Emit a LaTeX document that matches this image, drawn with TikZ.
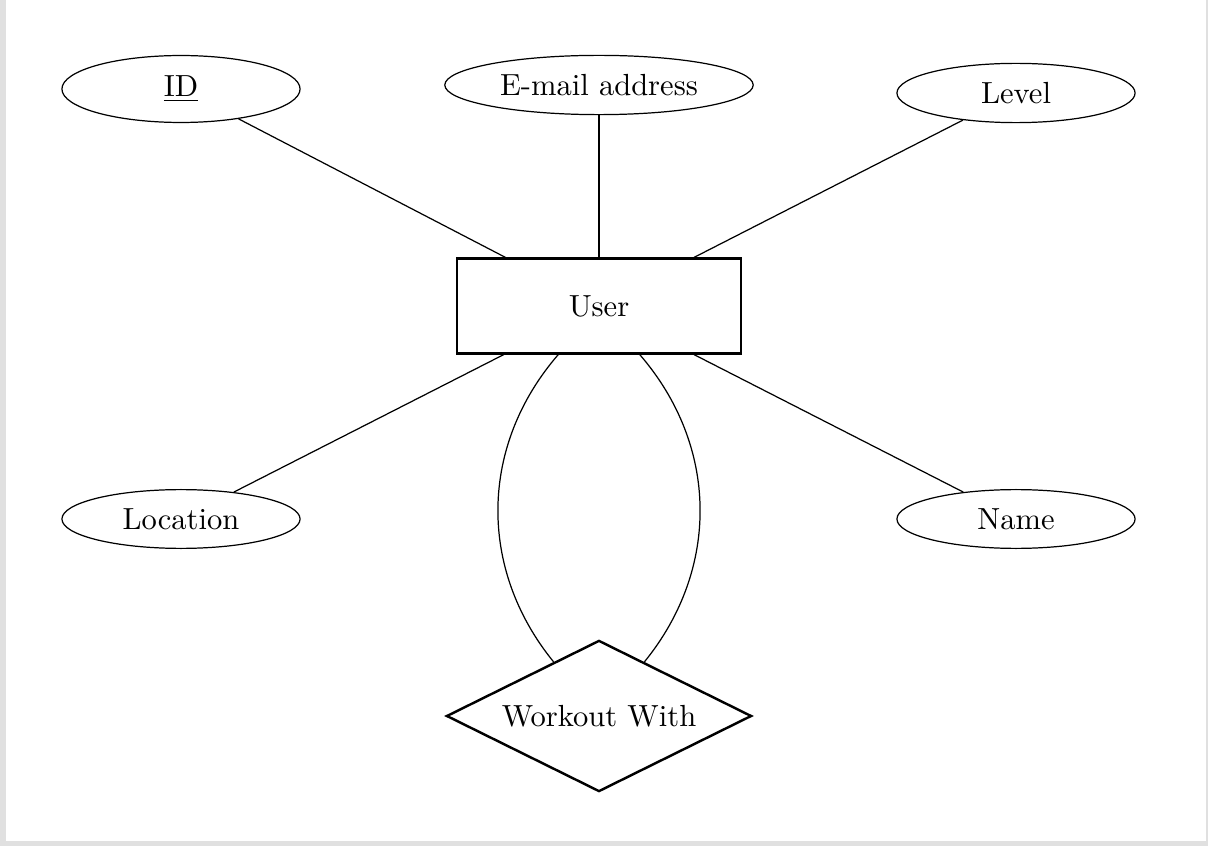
\documentclass[tikz,border=0pt]{standalone}
\usepackage{amsmath}
\usepackage{tikz}
\usetikzlibrary{positioning}
\usetikzlibrary{shapes}

\begin{document}
\begin{tikzpicture}[x=0.0115cm, y=-0.0115cm]
	\useasboundingbox (0,0) rectangle (1208,846);
	\fill[black!12] (0,0) rectangle (1208,846);
	\fill[white] (6,0) rectangle (1206,841);

	\node[ellipse, draw, minimum width=2.74cm] (id) at (181,89) {\underline{ID}};
	\node[ellipse, draw, minimum width=2.74cm] (email) at (599,85) {E-mail address};
	\node[ellipse, draw, minimum width=2.74cm] (level) at (1016,93) {Level};
	\node[ellipse, draw, minimum width=2.74cm] (location) at (181,519) {Location};
	\node[ellipse, draw, minimum width=2.74cm] (name) at (1016,519) {Name};
	\node[rectangle, draw, thick, minimum width=3.27cm, minimum height=1.09cm] (user) at (599,306) {User};
	\node[diamond, draw, thick, aspect=2, minimum width=3.51cm, minimum height=1.74cm, inner sep=0pt] (workout) at (599,716) {Workout With};

	\draw (id) -- (user);
	\draw (email) -- (user);
	\draw (level) -- (user);
	\draw (location) -- (user);
	\draw (name) -- (user);
	\draw (user) to[bend right=40] (workout);
	\draw (user) to[bend left=40] (workout);
\end{tikzpicture}
\end{document}
